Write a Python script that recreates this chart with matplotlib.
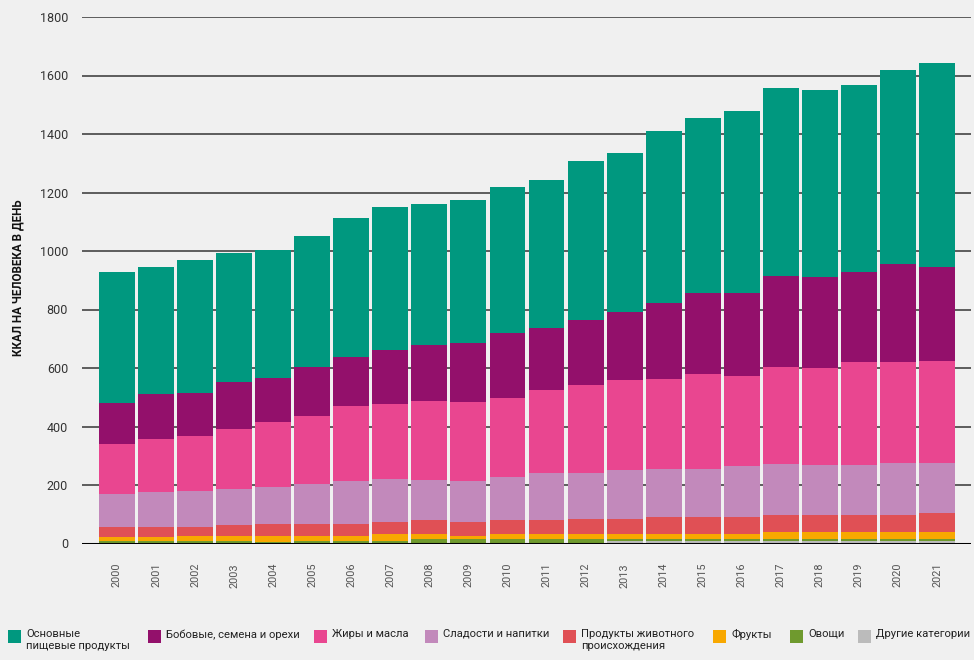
import matplotlib
matplotlib.use('Agg')
import matplotlib.pyplot as plt
from matplotlib.patches import Rectangle
import numpy as np

years = [str(y) for y in range(2000, 2022)]

# ккал на человека в день, по категориям (снизу вверх)
other = [0, 0, 0, 0, 3, 3, 3, 3, 3, 3, 3, 3, 3, 8, 8, 8, 7, 7, 7, 7, 10, 10]
vegetables = [7, 7, 8, 8, 3, 7, 7, 7, 11, 11, 11, 11, 11, 6, 6, 6, 10, 10, 10, 10, 7, 7]
fruits = [14, 14, 16, 16, 18, 14, 17, 21, 17, 13, 17, 17, 17, 20, 20, 20, 17, 21, 21, 24, 24, 24]
animal = [34, 34, 34, 38, 41, 44, 41, 44, 48, 48, 48, 51, 54, 51, 55, 55, 58, 58, 58, 58, 58, 62]
sweets = [115, 122, 122, 125, 129, 136, 147, 147, 139, 140, 149, 160, 157, 167, 166, 166,
          174, 177, 173, 170, 177, 173]
fats = [171, 181, 188, 205, 222, 233, 256, 256, 270, 270, 270, 284, 301, 308, 308, 325,
        308, 331, 332, 353, 346, 349]
legumes = [140, 154, 148, 161, 151, 167, 167, 184, 191, 201, 222, 212, 221, 232, 259, 277,
           283, 311, 310, 307, 335, 321]
staples = [447, 433, 453, 440, 436, 446, 474, 488, 480, 490, 498, 505, 544, 543, 588, 598,
           621, 642, 639, 638, 661, 696]

labels = ['Основные\nпищевые продукты', 'Бобовые, семена и орехи', 'Жиры и масла',
          'Сладости и напитки', 'Продукты животного\nпроисхождения', 'Фрукты', 'Овощи',
          'Другие категории']
colors = ['#00987f', '#93106b', '#e94690', '#c289bb', '#e05055', '#f8a800', '#6f9a2e', '#bbbbbb']

yticks = [0, 200, 400, 600, 800, 1000, 1200, 1400, 1600, 1800]

W, H = 974, 660
bg = '#f0f0f0'
plt.rcParams['font.family'] = ['Roboto', 'DejaVu Sans']

fig = plt.figure(figsize=(W / 100, H / 100), dpi=100, facecolor=bg)
ax = fig.add_axes([82 / W, 1 - 543.5 / H, 889 / W, 526.5 / H])
ax.set_facecolor(bg)

x = np.arange(len(years))
stack = [other, vegetables, fruits, animal, sweets, fats, legumes, staples]
bottom = np.zeros(len(years))
for vals, c in zip(stack, colors[::-1]):
    ax.bar(x, vals, bottom=bottom, width=0.92, color=c, zorder=2, linewidth=0)
    bottom += np.array(vals)

ax.set_ylim(0, 1800)
ax.set_xlim(-0.896, 21.87)
ax.set_yticks(yticks)
ax.set_yticklabels([str(v) for v in yticks], fontsize=9, color='#333333')
ax.set_xticks(x)
ax.set_xticklabels(years, rotation=90, fontsize=7.8, color='#555555', va='top')
ax.tick_params(axis='both', length=0)
ax.tick_params(axis='y', pad=10)
ax.tick_params(axis='x', pad=14)
for s in ax.spines.values():
    s.set_visible(False)
ax.yaxis.grid(True, color='#444444', linewidth=1.2, zorder=0)
ax.set_axisbelow(True)
ax.axhline(0, color='black', linewidth=2.2, zorder=3)

fig.text(18 / W, 1 - 278 / H, 'ККАЛ НА ЧЕЛОВЕКА В ДЕНЬ', rotation=90, ha='center', va='center',
         fontsize=8.4, fontweight='bold', color='#111111')

# легенда внизу
box_x = [8, 148, 314, 425, 563, 713, 790, 858]
for bx, c, lab in zip(box_x, colors, labels):
    fig.patches.append(Rectangle((bx / W, 1 - 643 / H), 13 / W, 13 / H,
                                 transform=fig.transFigure, facecolor=c, edgecolor='none'))
    fig.text((bx + 18) / W, 1 - 629 / H, lab, ha='left', va='top', fontsize=8.1,
             color='#222222', linespacing=1.3)

fig.savefig('out.png', dpi=100, facecolor=bg)
